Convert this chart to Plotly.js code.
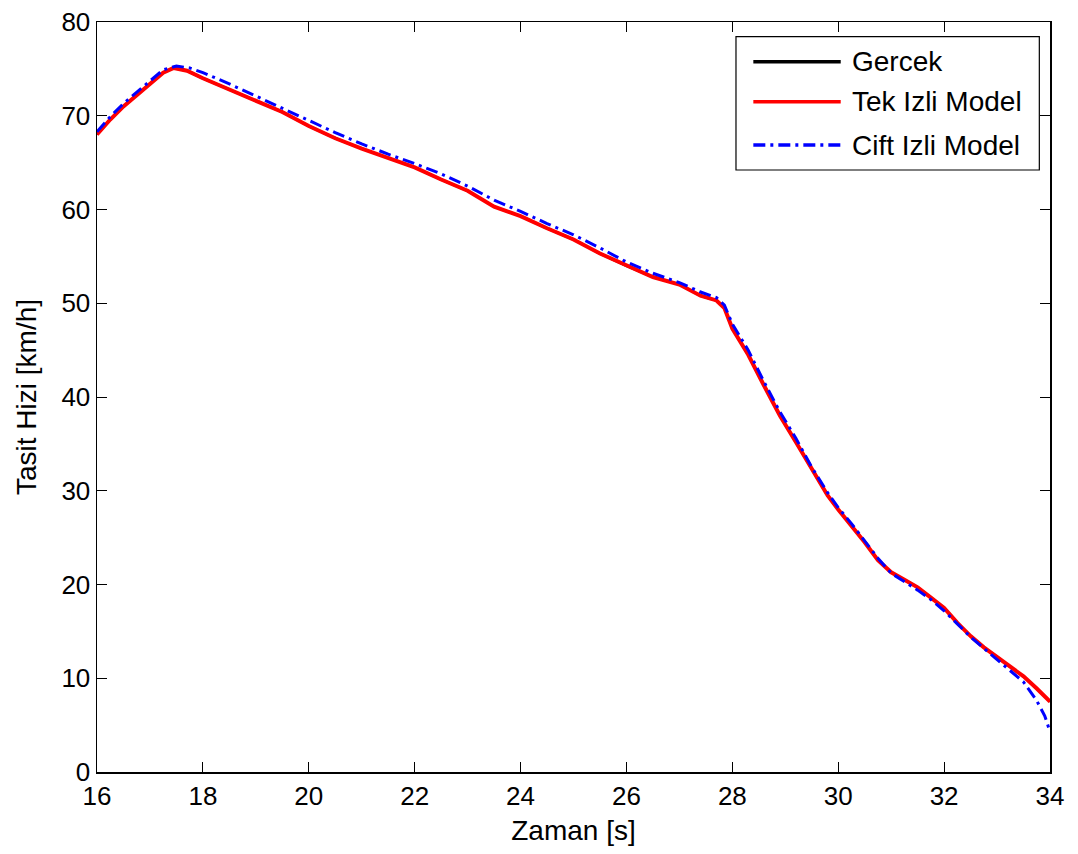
<!DOCTYPE html>
<html>
<head>
<meta charset="utf-8">
<script src="https://cdn.plot.ly/plotly-3.0.1.min.js"></script>
<style>html,body{margin:0;padding:0;background:#fff;}#chart{width:1078px;height:854px;}</style>
</head>
<body>
<div id="chart"></div>
<script>
// Time axis samples [s]
const timeTek = [16.0,16.25,16.5,16.75,17.0,17.25,17.45,17.7,18.0,18.5,19.0,19.5,20.0,20.5,21.0,21.5,22.0,22.5,23.0,23.5,24.0,24.5,25.0,25.5,26.0,26.5,27.0,27.4,27.7,27.85,28.0,28.3,28.6,28.9,29.2,29.5,29.8,30.0,30.25,30.5,30.75,31.0,31.25,31.5,31.75,32.0,32.25,32.5,32.75,33.0,33.25,33.5,33.75,34.0];
// Gercek (measured) - hidden under the red line in the reference
const speedGercek = [68.0,69.6,71.0,72.2,73.3,74.6,75.1,74.8,74.0,72.8,71.6,70.4,68.9,67.6,66.5,65.5,64.5,63.2,62.0,60.3,59.3,58.0,56.8,55.3,54.0,52.8,52.0,50.8,50.3,49.5,47.3,44.5,41.2,38.0,35.2,32.3,29.5,28.0,26.3,24.5,22.6,21.3,20.5,19.7,18.6,17.5,15.9,14.5,13.3,12.3,11.2,10.2,8.9,7.5];
// Tek Izli Model
const speedTek = [68.0,69.6,71.0,72.2,73.3,74.6,75.1,74.8,74.0,72.8,71.6,70.4,68.9,67.6,66.5,65.5,64.5,63.2,62.0,60.3,59.3,58.0,56.8,55.3,54.0,52.8,52.0,50.8,50.3,49.5,47.3,44.5,41.2,38.0,35.2,32.3,29.5,28.0,26.3,24.5,22.6,21.3,20.5,19.7,18.6,17.5,15.9,14.5,13.3,12.3,11.2,10.2,8.9,7.5];
// Cift Izli Model
const timeCift = [16.0,16.25,16.5,16.75,17.0,17.25,17.5,17.75,18.0,18.5,19.0,19.5,20.0,20.5,21.0,21.5,22.0,22.5,23.0,23.5,24.0,24.5,25.0,25.5,26.0,26.5,27.0,27.4,27.7,27.85,28.0,28.3,28.6,28.9,29.2,29.5,29.8,30.0,30.25,30.5,30.75,31.0,31.25,31.5,31.75,32.0,32.25,32.5,32.75,33.0,33.25,33.5,33.75,33.9,34.0];
const speedCift = [68.3,69.9,71.3,72.5,73.6,74.9,75.3,75.1,74.6,73.4,72.1,70.8,69.5,68.2,67.0,65.9,64.9,63.8,62.5,61.0,59.8,58.5,57.3,55.9,54.4,53.2,52.2,51.2,50.6,49.8,47.8,45.0,41.6,38.4,35.6,32.5,29.8,28.2,26.5,24.6,22.8,21.2,20.3,19.4,18.4,17.2,15.8,14.4,13.2,12.0,10.9,9.6,7.6,6.0,4.3];

const seriesNames = ["Gercek","Tek Izli Model","Cift Izli Model"];
const xTicks = [16,18,20,22,24,26,28,30,32,34];
const yTicks = [0,10,20,30,40,50,60,70,80];

const FONT = "Liberation Sans, Arial, Helvetica, sans-serif";
const colors = ["#000000","#ff0000","#0000ff"];
const widths = [2.5,4,3];
const dashes = ["solid","solid","12px,5px,3px,5px"];

const traces = [
  {x: timeTek, y: speedGercek, name: seriesNames[0], mode: "lines", line: {color: colors[0], width: widths[0], dash: dashes[0]}},
  {x: timeTek, y: speedTek, name: seriesNames[1], mode: "lines", line: {color: colors[1], width: widths[1], dash: dashes[1]}},
  {x: timeCift, y: speedCift, name: seriesNames[2], mode: "lines", line: {color: colors[2], width: widths[2], dash: dashes[2]}}
];

// Manual legend (MATLAB-style long line samples)
const legRows = [0.9471, 0.8937, 0.836];
const shapes = [{type: "rect", xref: "paper", yref: "paper", x0: 0.6705, x1: 0.9888, y0: 0.8027, y1: 0.9804, line: {color: "#000", width: 1.2}, fillcolor: "#fff", layer: "above"}];
const annotations = [];
seriesNames.forEach((n, i) => {
  shapes.push({type: "line", xref: "paper", yref: "paper", x0: 0.6887, x1: 0.7804, y0: legRows[i], y1: legRows[i], line: {color: colors[i], width: 3.5, dash: dashes[i]}, layer: "above"});
  annotations.push({xref: "paper", yref: "paper", x: 0.7905, y: legRows[i], xanchor: "left", yanchor: "middle", text: n, showarrow: false, font: {family: FONT, size: 28, color: "#000"}});
});

const axisCommon = {
  showgrid: false, zeroline: false, showline: true, linecolor: "#000", linewidth: 1.5,
  ticks: "inside", ticklen: 10, tickwidth: 1, tickcolor: "#000", mirror: "ticks",
  tickfont: {family: FONT, size: 26, color: "#000"}
};

const layout = {
  width: 1078, height: 854,
  margin: {l: 97, r: 28, t: 22, b: 82},
  paper_bgcolor: "#fff", plot_bgcolor: "#fff",
  showlegend: false,
  font: {family: FONT, color: "#000"},
  xaxis: Object.assign({}, axisCommon, {range: [16, 34], tickvals: xTicks, ticktext: xTicks.map(String),
    title: {text: "Zaman [s]", font: {family: FONT, size: 28, color: "#000"}, standoff: 10}}),
  yaxis: Object.assign({}, axisCommon, {range: [0, 80], tickvals: yTicks, ticktext: yTicks.map(String),
    title: {text: "Tasit Hizi [km/h]", font: {family: FONT, size: 28, color: "#000"}, standoff: 16}}),
  shapes: shapes,
  annotations: annotations
};

Plotly.newPlot("chart", traces, layout, {displayModeBar: false, staticPlot: true});
</script>
</body>
</html>
